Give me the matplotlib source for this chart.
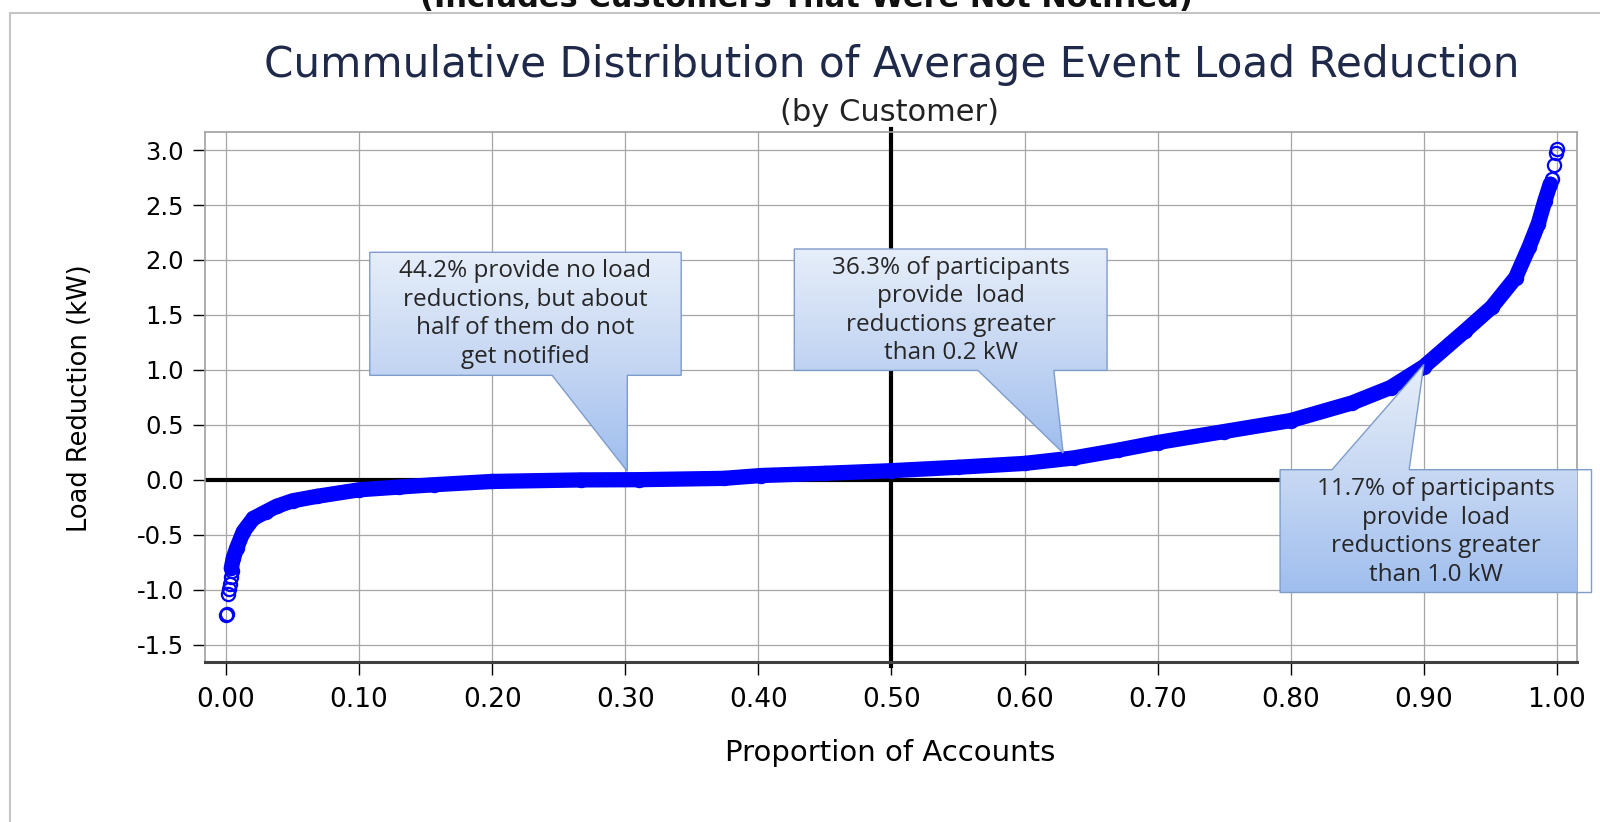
import numpy as np
import matplotlib
matplotlib.use('Agg')
import matplotlib.pyplot as plt
from matplotlib.patches import Polygon, Rectangle
from matplotlib.colors import LinearSegmentedColormap

plt.rcParams['font.family'] = 'DejaVu Sans'
plt.rcParams['axes.unicode_minus'] = False

# cumulative distribution (proportion of accounts, kW)
band_p = [0.004, 0.0055, 0.008, 0.013, 0.0205, 0.03, 0.038, 0.05, 0.068, 0.1,
          0.13, 0.156, 0.2, 0.267, 0.31, 0.374, 0.402, 0.45, 0.5, 0.55,
          0.6, 0.637, 0.67, 0.70, 0.75, 0.80, 0.846, 0.875, 0.90, 0.931,
          0.951, 0.969, 0.979, 0.986, 0.991, 0.995]
band_v = [-0.80, -0.71, -0.62, -0.47, -0.35, -0.29, -0.24, -0.19, -0.15, -0.09,
          -0.065, -0.044, -0.014, 0.0, 0.002, 0.014, 0.04, 0.06, 0.084, 0.115,
          0.15, 0.20, 0.27, 0.34, 0.44, 0.54, 0.70, 0.84, 1.03, 1.355,
          1.57, 1.84, 2.115, 2.33, 2.54, 2.69]

# isolated points at both ends
tail_p = [0.0, 0.0006, 0.0018, 0.0024, 0.003, 0.0036, 0.0042, 0.9965, 0.998, 0.9993, 1.0]
tail_v = [-1.23, -1.22, -1.04, -0.99, -0.95, -0.88, -0.83, 2.74, 2.86, 2.97, 3.01]

x_ticks = [0.0, 0.1, 0.2, 0.3, 0.4, 0.5, 0.6, 0.7, 0.8, 0.9, 1.0]
y_ticks = [-1.5, -1.0, -0.5, 0.0, 0.5, 1.0, 1.5, 2.0, 2.5, 3.0]

notes = [
    "44.2% provide no load\nreductions, but about\nhalf of them do not\nget notified",
    "36.3% of participants\nprovide  load\nreductions greater\nthan 0.2 kW",
    "11.7% of participants\nprovide  load\nreductions greater\nthan 1.0 kW",
]

W, H = 1600, 822
fig = plt.figure(figsize=(W / 100, H / 100), dpi=100)
fig.patch.set_facecolor('white')

# outer frame
fig.add_artist(Rectangle((10 / W, -0.1), 1.2, 1 - 13 / H + 0.1, transform=fig.transFigure,
                         fill=False, ec='#C4C4C4', lw=1.5))

fig.text(806 / W, 1 - 7 / H, "(Includes Customers That Were Not Notified)",
         ha='center', va='baseline', fontsize=22, fontweight='bold', color='#111111')
fig.text(892 / W, 1 - 77 / H, "Cummulative Distribution of Average Event Load Reduction",
         ha='center', va='baseline', fontsize=30.3, color='#1F2A4A')
fig.text(890 / W, 1 - 112 / H, "(by Customer)", ha='center', va='center',
         fontsize=22, color='#222222')

ax = fig.add_axes([205 / W, 1 - 662 / H, 1372 / W, 530 / H])
ax.set_facecolor('white')

ax.set_xticks(x_ticks)
ax.set_xticklabels(['%.2f' % t for t in x_ticks])
ax.set_yticks(y_ticks)
ax.set_yticklabels(['%.1f' % t for t in y_ticks])
ax.tick_params(axis='x', direction='out', length=9, width=1, pad=9, labelsize=19, colors='black')
ax.tick_params(axis='y', direction='out', length=9, width=1, pad=6, labelsize=17.5, colors='black')
ax.grid(True, color='#A6A6A6', lw=0.9)
ax.set_axisbelow(True)
for s in ['top', 'right', 'left']:
    ax.spines[s].set_color('#A0A0A0')
    ax.spines[s].set_linewidth(1.2)
ax.spines['bottom'].set_color('#404040')
ax.spines['bottom'].set_linewidth(2.2)

ax.axhline(0, color='black', lw=3, zorder=2)
ax.axvline(0.5, ymin=-0.008, ymax=1.006, color='black', lw=3, zorder=2, clip_on=False)

ax.plot(band_p, band_v, color='#0000FF', lw=11, solid_capstyle='round',
        solid_joinstyle='round', zorder=3)
ax.plot(band_p, band_v, ls='none', marker='o', ms=9.5, mfc='none', mec='#0000FF', mew=1.6, zorder=3)
ax.plot(tail_p, tail_v, ls='none', marker='o', ms=9.5, mfc='none', mec='#0000FF', mew=1.6, zorder=3)

cmap = LinearSegmentedColormap.from_list('callout', ['#E6EEF9', '#C6D7F3', '#9FBEEE'])


def callout(verts, text, tx, ty):
    poly = Polygon(verts, closed=True, facecolor='none', edgecolor='#7E9CCB',
                   lw=1.0, zorder=6, clip_on=False)
    ax.add_patch(poly)
    xs = [v[0] for v in verts]
    ys = [v[1] for v in verts]
    grad = np.linspace(0, 1, 256).reshape(-1, 1)
    im = ax.imshow(grad, cmap=cmap, extent=(min(xs), max(xs), min(ys), max(ys)),
                   origin='upper', aspect='auto', zorder=5, interpolation='bilinear')
    im.set_clip_path(poly)
    im.set_clip_box(None)
    ax.text(tx, ty, text, ha='center', va='center', family='Open Sans', fontsize=17.5,
            color='#262626', zorder=7, linespacing=1.25)


callout([(0.108, 2.07), (0.342, 2.07), (0.342, 0.951), (0.3015, 0.951), (0.3015, 0.078),
         (0.245, 0.951), (0.108, 0.951)], notes[0], 0.225, 1.51)
callout([(0.427, 2.10), (0.662, 2.10), (0.662, 0.996), (0.622, 0.996), (0.629, 0.245),
         (0.565, 0.996), (0.427, 0.996)], notes[1], 0.545, 1.54)
callout([(0.792, 0.093), (0.831, 0.093), (0.90, 1.05), (0.889, 0.093), (1.026, 0.093),
         (1.026, -1.024), (0.792, -1.024)], notes[2], 0.909, -0.475)

ax.set_xlim(-0.0158, 1.0151)
ax.set_ylim(-1.656, 3.164)

fig.text(890 / W, 1 - 753 / H, "Proportion of Accounts", ha='center', va='center',
         fontsize=21, color='black')
fig.text(80 / W, 1 - 398 / H, "Load Reduction (kW)", ha='center', va='center',
         rotation=90, fontsize=18.5, color='black')

fig.savefig('out.png', dpi=100)
